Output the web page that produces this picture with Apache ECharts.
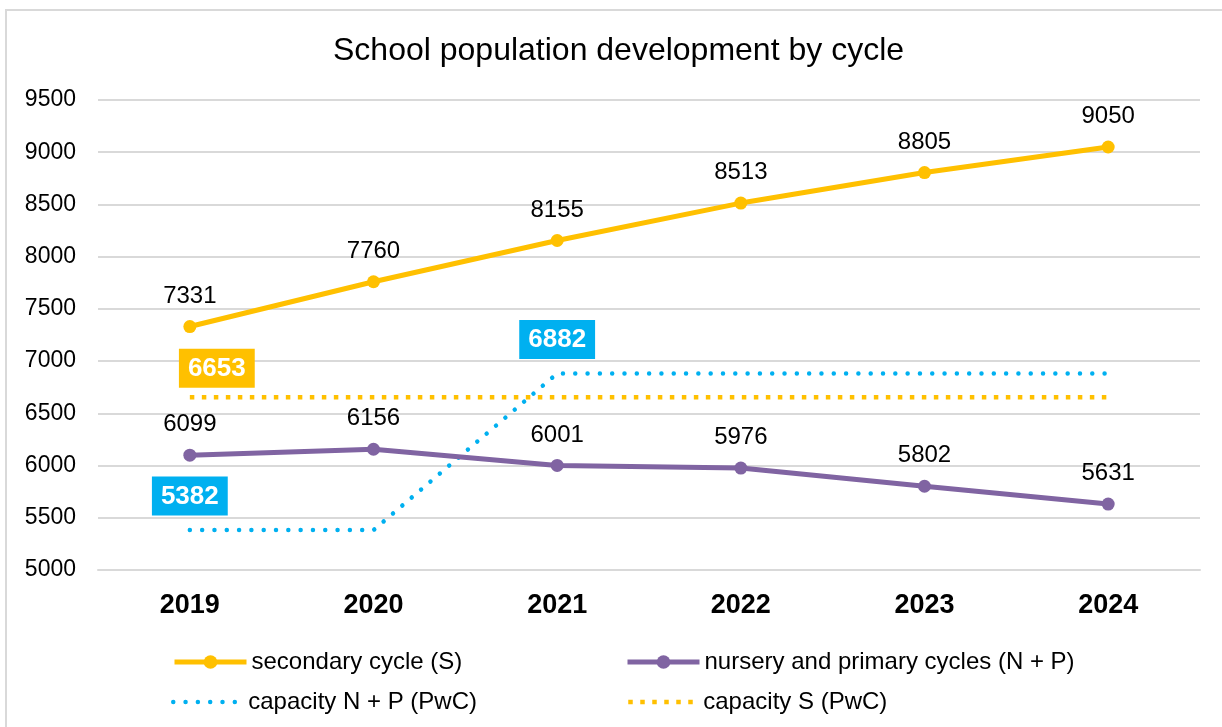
<!DOCTYPE html>
<html>
<head>
<meta charset="utf-8">
<script src="https://cdn.jsdelivr.net/npm/echarts@6/dist/echarts.min.js"></script>
<style>
  html, body { margin: 0; padding: 0; background: #fff; }
  #chart { width: 1222px; height: 727px; }
</style>
</head>
<body>
<div id="chart"></div>
<script>
// years on the x axis
const years = ['2019', '2020', '2021', '2022', '2023', '2024']
// pupils per cycle
const secondary = [7331, 7760, 8155, 8513, 8805, 9050]
const nurseryPrimary = [6099, 6156, 6001, 5976, 5802, 5631]
// capacity lines (PwC)
const capacityNP = [5382, 5382, 6882, 6882, 6882, 6882]
const capacityS = [6653, 6653, 6653, 6653, 6653, 6653]
// y axis ticks
const yMin = 5000
const yMax = 9500
const yStep = 500

const YELLOW = '#FFC000'
const PURPLE = '#8064A2'
const BLUE = '#00B0F0'
const FONT = 'Liberation Sans, Arial, sans-serif'

const BLUE_DOTS = [0.01, 12.3]
const YELLOW_DASH = [4.5, 7.5]

const chart = echarts.init(document.getElementById('chart'))

// capacity points that carry a coloured value box
const boxPoint = (v, color, distance, offset) => ({
  value: v,
  symbol: 'circle',
  symbolSize: 1,
  itemStyle: { color: 'transparent' },
  label: {
    show: true,
    position: 'top',
    distance: distance,
    offset: offset,
    backgroundColor: color,
    color: '#fff',
    fontWeight: 'bold',
    fontSize: 26,
    lineHeight: 28,
    fontFamily: FONT,
    padding: [6, 9, 5, 9]
  }
})

const legendBase = {
  top: 645,
  itemWidth: 72,
  itemHeight: 17,
  itemGap: 10,
  textStyle: { fontSize: 24, color: '#000', fontFamily: FONT }
}

const option = {
  animation: false,
  textStyle: { fontFamily: FONT },
  title: {
    text: 'School population development by cycle',
    left: 328,
    top: 30,
    textStyle: { fontSize: 32, fontWeight: 'normal', color: '#000', fontFamily: FONT }
  },
  graphic: [{
    type: 'rect',
    shape: { x: 6, y: 10, width: 1240, height: 740 },
    style: { fill: 'none', stroke: '#d9d9d9', lineWidth: 2 },
    silent: true
  }],
  legend: [
    Object.assign({}, legendBase, {
      left: 167,
      data: [{ name: 'secondary cycle (S)', lineStyle: { width: 5 } }]
    }),
    Object.assign({}, legendBase, {
      left: 620,
      itemGap: 5,
      data: [{ name: 'nursery and primary cycles (N + P)', lineStyle: { width: 5 } }]
    }),
    Object.assign({}, legendBase, {
      left: 166,
      top: 685,
      itemWidth: 70,
      data: [{
        name: 'capacity N + P (PwC)',
        itemStyle: { opacity: 0 },
        lineStyle: { width: 4.5, type: BLUE_DOTS, cap: 'round' }
      }]
    }),
    Object.assign({}, legendBase, {
      left: 621,
      top: 685,
      itemWidth: 70,
      data: [{
        name: 'capacity S (PwC)',
        itemStyle: { opacity: 0 },
        lineStyle: { width: 4.5, type: YELLOW_DASH, cap: 'butt' }
      }]
    })
  ],
  grid: { left: 98, right: 22, top: 100, bottom: 157 },
  xAxis: {
    type: 'category',
    data: years,
    boundaryGap: true,
    axisLine: { lineStyle: { color: '#d9d9d9', width: 2 } },
    axisTick: { show: false },
    axisLabel: { fontSize: 27, fontWeight: 'bold', color: '#000', margin: 22 }
  },
  yAxis: {
    type: 'value',
    min: yMin,
    max: yMax,
    interval: yStep,
    axisLine: { show: false },
    axisTick: { show: false },
    splitLine: { lineStyle: { color: '#d9d9d9', width: 2 } },
    axisLabel: { fontSize: 23, color: '#000', margin: 22, formatter: v => String(v) }
  },
  series: [
    {
      name: 'secondary cycle (S)',
      type: 'line',
      data: secondary,
      color: YELLOW,
      symbol: 'circle',
      symbolSize: 13,
      lineStyle: { width: 5, color: YELLOW },
      itemStyle: { color: YELLOW },
      label: { show: true, position: 'top', distance: 12, fontSize: 24, color: '#000' },
      z: 5
    },
    {
      name: 'nursery and primary cycles (N + P)',
      type: 'line',
      data: nurseryPrimary,
      color: PURPLE,
      symbol: 'circle',
      symbolSize: 13,
      lineStyle: { width: 5, color: PURPLE },
      itemStyle: { color: PURPLE },
      label: { show: true, position: 'top', distance: 12, fontSize: 24, color: '#000' },
      z: 5
    },
    {
      name: 'capacity N + P (PwC)',
      type: 'line',
      color: BLUE,
      data: capacityNP.map((v, i) => (i === 0 || i === 2) ? boxPoint(v, BLUE, 14, [0, 0]) : v),
      symbol: 'none',
      lineStyle: { width: 4.5, color: BLUE, type: BLUE_DOTS, cap: 'round' },
      z: 3
    },
    {
      name: 'capacity S (PwC)',
      type: 'line',
      color: YELLOW,
      data: capacityS.map((v, i) => i === 0 ? boxPoint(v, YELLOW, 9, [27, 0]) : v),
      symbol: 'none',
      lineStyle: { width: 4.5, color: YELLOW, type: YELLOW_DASH, cap: 'butt' },
      z: 3
    }
  ]
}

chart.setOption(option)
</script>
</body>
</html>
